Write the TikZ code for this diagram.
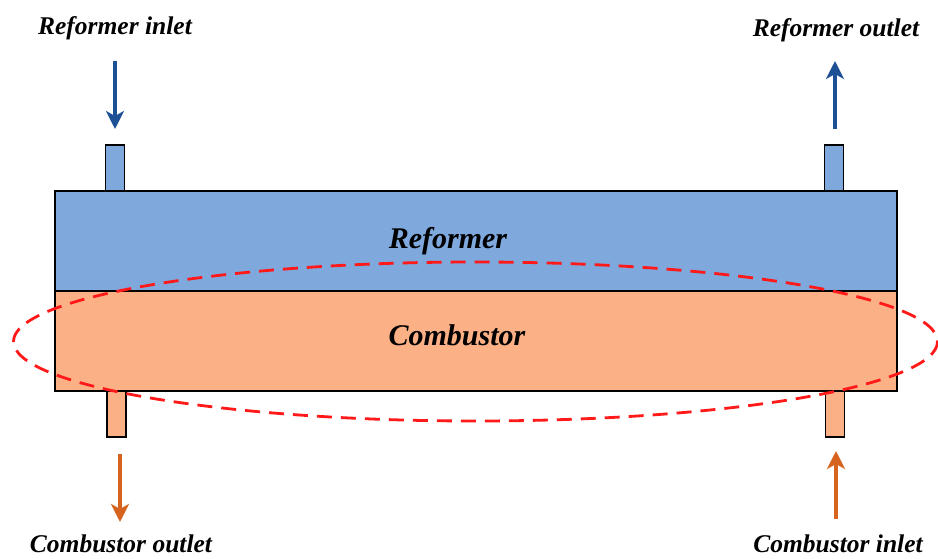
\documentclass[tikz,border=0pt]{standalone}
\usepackage{fontspec}
\setmainfont{Liberation Serif}
\usetikzlibrary{arrows.meta}
\definecolor{refblue}{RGB}{127,168,220}
\definecolor{combor}{RGB}{251,176,133}
\definecolor{arrblue}{RGB}{30,80,150}
\definecolor{arror}{RGB}{215,100,30}
\definecolor{ellred}{RGB}{255,25,25}
\tikzset{
  chamber/.style={draw=black, line width=1.6pt, minimum width=842pt, minimum height=100pt, inner sep=0pt},
  stub/.style={draw=black, line width=1.6pt, minimum width=19pt, minimum height=46pt, inner sep=0pt},
  lbl/.style={font=\fontsize{25.5}{30}\selectfont\bfseries\itshape, inner sep=0pt, anchor=base},
  mid/.style={font=\fontsize{30}{34}\selectfont\bfseries\itshape, inner sep=0pt, anchor=base},
  flow/.style={line width=3.3pt, -{Stealth[length=18pt,width=18pt,inset=5pt]}},
}
\begin{document}
\begin{tikzpicture}[x=1pt,y=-1pt]
\useasboundingbox (0,0) rectangle (938,559);
% stubs
\node[stub, fill=refblue] (sRi) at (115,168) {};
\node[stub, fill=refblue] (sRo) at (834,168) {};
\node[stub, fill=combor] (sCo) at (116.5,414) {};
\node[stub, fill=combor] (sCi) at (835,414) {};
% chambers
\node[chamber, fill=refblue] (ref) at (476,241) {};
\node[chamber, fill=combor] (comb) at (476,341) {};
% ellipse
\draw[ellred, line width=2.8pt, dash pattern=on 15pt off 9pt] (475.5,341.5) ellipse [x radius=462, y radius=79.5];
% chamber labels
\node[mid] (tref) at (448,248) {Reformer};
\node[mid] (tcomb) at (457,345) {Combustor};
% port labels
\node[lbl] (lRi) at (115,35) {Reformer inlet};
\node[lbl] (lRo) at (836,37) {Reformer outlet};
\node[lbl] (lCo) at (121,552) {Combustor outlet};
\node[lbl] (lCi) at (838,552) {Combustor inlet};
% arrow end coordinates
\coordinate (aRi1) at (115,61);
\coordinate (aRi2) at (115,129);
\coordinate (aRo1) at (835,129);
\coordinate (aRo2) at (835,61);
\coordinate (aCo1) at (120,454);
\coordinate (aCo2) at (120,522);
\coordinate (aCi1) at (836,519);
\coordinate (aCi2) at (836,451);
\draw[flow, arrblue] (aRi1) -- (aRi2);
\draw[flow, arrblue] (aRo1) -- (aRo2);
\draw[flow, arror] (aCo1) -- (aCo2);
\draw[flow, arror] (aCi1) -- (aCi2);
\end{tikzpicture}
\end{document}
